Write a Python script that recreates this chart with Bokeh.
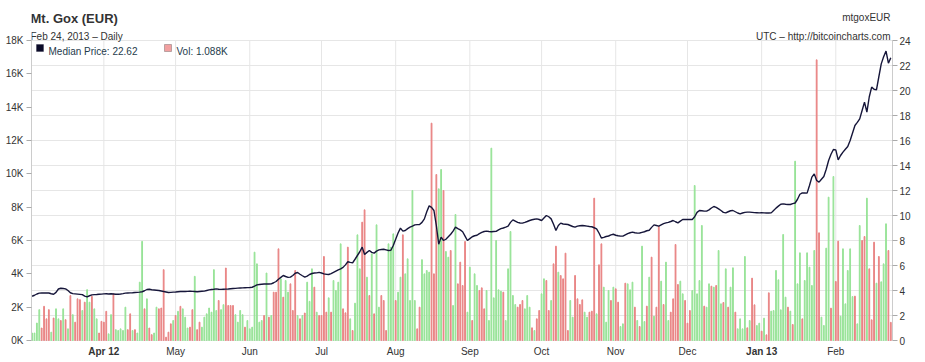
from datetime import datetime
import pandas as pd
from bokeh.plotting import figure
from bokeh.models import Range1d, LinearAxis, FixedTicker, Label, BoxAnnotation, ColumnDataSource
from bokeh.embed import file_html
from bokeh.resources import INLINE

# ---------------- data ----------------
start_day = "2012-03-02"
n_days = 360

# median price, EUR (right axis)
price = [
    3.54, 3.62, 3.72, 3.79, 3.80, 3.80, 3.81, 3.80, 3.74, 3.70,
    3.85, 4.12, 4.18, 4.16, 4.13, 4.00, 3.82, 3.75, 3.73, 3.71,
    3.69, 3.67, 3.55, 3.49, 3.58, 3.65, 3.67, 3.68, 3.70, 3.71,
    3.73, 3.74, 3.72, 3.74, 3.72, 3.70, 3.70, 3.72, 3.75, 3.79,
    3.80, 3.81, 3.82, 3.84, 3.85, 3.87, 3.90, 3.98, 4.08, 4.10,
    4.06, 4.04, 4.02, 4.00, 3.96, 3.92, 3.88, 3.84, 3.85, 3.87,
    3.88, 3.90, 3.92, 3.93, 3.92, 3.93, 3.94, 3.93, 3.92, 3.90,
    3.92, 3.94, 3.95, 4.00, 4.05, 4.08, 4.10, 4.13, 4.10, 4.09,
    4.10, 4.11, 4.12, 4.14, 4.16, 4.17, 4.19, 4.20, 4.21, 4.22,
    4.23, 4.24, 4.26, 4.35, 4.45, 4.48, 4.50, 4.52, 4.53, 4.52,
    4.53, 4.62, 4.72, 4.90, 5.05, 5.20, 5.12, 5.05, 5.07, 5.20,
    5.38, 5.44, 5.30, 5.18, 5.07, 5.15, 5.28, 5.36, 5.40, 5.41,
    5.45, 5.40, 5.33, 5.30, 5.28, 5.35, 5.45, 5.55, 5.65, 5.73,
    5.85, 6.05, 6.30, 6.25, 6.21, 6.50, 6.80, 7.10, 7.47, 6.88,
    7.05, 7.20, 7.05, 6.99, 7.15, 7.25, 7.28, 7.30, 7.25, 7.20,
    7.22, 7.60, 8.10, 8.60, 8.99, 8.75, 8.80, 8.95, 9.07, 9.15,
    9.25, 9.27, 9.28, 9.45, 9.73, 10.30, 10.77, 10.65, 10.40, 9.20,
    7.70, 8.27, 8.00, 8.10, 8.30, 8.50, 8.75, 9.07, 8.95, 8.85,
    8.70, 8.35, 8.00, 8.15, 8.30, 8.38, 8.42, 8.55, 8.65, 8.72,
    8.75, 8.72, 8.70, 8.72, 8.73, 8.85, 8.95, 9.00, 9.07, 9.15,
    9.45, 9.65, 9.55, 9.45, 9.40, 9.39, 9.45, 9.52, 9.60, 9.66,
    9.70, 9.73, 9.68, 9.60, 9.80, 10.00, 9.90, 9.73, 9.30, 8.80,
    9.20, 9.39, 9.32, 9.30, 9.28, 9.20, 9.12, 9.07, 9.15, 9.18,
    9.20, 9.18, 9.15, 9.12, 9.10, 9.02, 8.93, 8.60, 8.20, 8.25,
    8.32, 8.36, 8.45, 8.50, 8.42, 8.38, 8.35, 8.35, 8.45, 8.55,
    8.62, 8.67, 8.62, 8.59, 8.60, 8.65, 8.70, 8.78, 8.82, 9.05,
    9.25, 9.20, 9.15, 9.25, 9.35, 9.41, 9.45, 9.52, 9.60, 9.50,
    9.41, 9.55, 9.68, 9.68, 9.68, 9.68, 9.68, 9.90, 10.25, 10.40,
    10.38, 10.35, 10.35, 10.45, 10.60, 10.72, 10.65, 10.53, 10.40, 10.25,
    10.21, 10.30, 10.38, 10.40, 10.30, 10.20, 10.13, 10.20, 10.25, 10.27,
    10.27, 10.25, 10.23, 10.22, 10.21, 10.22, 10.21, 10.20, 10.20, 10.21,
    10.40, 10.59, 10.75, 10.90, 10.93, 10.90, 10.88, 10.88, 10.95, 11.00,
    11.30, 11.70, 11.81, 11.80, 11.79, 12.40, 13.07, 13.33, 12.80, 12.67,
    12.90, 13.12, 13.70, 14.40, 14.90, 15.28, 15.25, 14.45, 14.80, 15.07,
    15.30, 15.52, 16.00, 16.60, 17.20, 17.45, 17.73, 18.40, 19.07, 18.27,
    19.50, 20.27, 20.10, 20.05, 21.10, 22.13, 22.70, 23.15, 22.19, 22.62,
]

# daily volume, thousands (left axis)
volume_k = [
    0.45, 0.45, 1.05, 1.85, 0.75, 2.05, 1.30, 1.85, 0.50, 1.35,
    1.90, 1.30, 1.20, 1.90, 1.25, 0.70, 2.70, 1.55, 1.10, 2.50,
    2.45, 1.80, 2.30, 3.05, 2.30, 2.65, 1.90, 1.30, 0.45, 1.15,
    1.10, 1.75, 0.40, 1.55, 2.80, 0.65, 0.60, 0.70, 0.60, 2.00,
    0.65, 1.60, 0.60, 0.65, 0.45, 3.50, 5.95, 1.90, 2.50, 0.75,
    0.35, 0.45, 2.00, 1.90, 1.95, 4.25, 0.20, 0.50, 1.00, 1.20,
    1.50, 1.75, 2.05, 1.90, 1.40, 0.75, 0.80, 1.85, 3.85, 0.65,
    1.10, 0.80, 1.40, 1.60, 1.95, 1.70, 4.25, 1.80, 2.40, 1.85,
    2.15, 4.35, 2.10, 2.10, 2.10, 1.55, 1.10, 1.80, 1.55, 0.80,
    1.20, 0.70, 0.80, 5.30, 4.60, 1.10, 1.20, 1.50, 4.05, 1.40,
    1.50, 2.90, 2.90, 5.50, 3.70, 2.60, 3.60, 2.90, 3.40, 1.80,
    4.20, 1.50, 1.30, 1.50, 1.65, 3.50, 2.35, 4.30, 3.20, 1.70,
    1.50, 1.50, 5.04, 1.70, 2.56, 1.70, 3.60, 3.00, 3.50, 5.80,
    1.90, 1.66, 5.60, 1.30, 0.60, 2.24, 6.34, 4.30, 7.10, 7.84,
    3.80, 2.70, 5.20, 1.60, 6.94, 2.00, 2.70, 2.40, 0.60, 5.80,
    5.60, 6.40, 2.40, 2.90, 3.80, 6.34, 4.00, 4.90, 2.40, 9.00,
    2.40, 0.70, 2.00, 4.85, 4.00, 4.20, 4.10, 13.04, 4.00, 9.96,
    9.10, 10.26, 9.00, 5.34, 5.00, 5.40, 2.10, 7.56, 3.40, 4.70,
    3.30, 5.94, 1.70, 4.40, 1.20, 4.00, 3.30, 3.00, 3.16, 1.90,
    3.00, 1.20, 11.54, 2.56, 6.00, 3.04, 2.96, 2.90, 1.20, 4.30,
    6.54, 2.70, 2.16, 2.00, 2.16, 2.40, 1.90, 2.70, 2.00, 0.76,
    0.60, 1.30, 1.80, 2.80, 3.70, 3.60, 1.80, 2.40, 4.60, 5.66,
    4.10, 3.90, 3.70, 5.24, 0.60, 2.40, 1.40, 3.90, 2.50, 2.16,
    2.44, 1.70, 1.40, 1.70, 1.76, 8.54, 1.60, 4.54, 5.80, 3.20,
    1.10, 3.00, 2.40, 3.20, 3.10, 2.30, 0.84, 1.00, 3.44, 3.40,
    3.04, 3.50, 2.00, 1.20, 0.84, 5.66, 1.14, 2.06, 3.80, 5.00,
    1.46, 2.00, 6.84, 3.56, 2.16, 4.70, 1.20, 1.70, 2.50, 5.76,
    3.36, 3.56, 2.80, 2.40, 1.04, 1.80, 3.00, 9.30, 2.80, 3.60,
    6.90, 2.06, 2.00, 3.40, 3.26, 3.20, 3.30, 5.40, 2.20, 2.28,
    4.30, 2.00, 3.20, 4.36, 1.70, 0.70, 1.30, 0.70, 5.04, 0.76,
    1.20, 3.74, 2.14, 0.90, 1.04, 0.56, 1.34, 0.34, 2.86, 1.76,
    1.80, 4.20, 3.64, 1.84, 6.36, 2.60, 2.00, 1.76, 0.96, 10.76,
    3.40, 5.26, 1.30, 3.60, 5.26, 4.40, 3.30, 5.40, 16.84, 6.46,
    1.40, 0.90, 5.54, 8.60, 1.94, 9.84, 3.54, 5.96, 1.46, 5.50,
    2.20, 4.20, 5.50, 2.64, 2.66, 1.00, 6.90, 6.00, 6.24, 8.54,
    4.30, 1.24, 5.90, 3.44, 5.04, 3.52, 4.60, 7.00, 5.40, 1.088,
]

# bar colour per day: g = up day, r = down day
updown = (
    "ggggrrrrgr" "ggrgrgrgrr" "rgrggrggrr"
    "rrggrggggg" "rrgrgggrgr" "rggrrrrrrg"
    "rgrgggrrgr" "rgggggggrg" "grrrrggggr"
    "gggggggrgr" "grrrgrggrr" "rgrgrgggrg"
    "rrrrgrgggg" "rrrgrgggrr" "grgrggrrrg"
    "ggrggrgggg" "grrggggrrr" "ggrggrggrr"
    "rrggrggrrr" "gggggggrgg" "gggrrrgggr"
    "grrggrrgrr" "grrrrggrrr" "rggrrrgrrg"
    "ggrgrrggrg" "ggrgrggrgr" "grrgrggrrr"
    "rggrrrgggg" "grggrgrggr" "grggrggggr"
    "grrggrgrrg" "ggggggrgrg" "ggrgggggrr"
    "ggggrgrrgg" "ggggrggrrg" "rrrgrgggrr"
)

vol_ticks = [0, 2000, 4000, 6000, 8000, 10000, 12000, 14000, 16000, 18000]
price_ticks = [0, 2, 4, 6, 8, 10, 12, 14, 16, 18, 20, 22, 24]
month_starts = ["2012-04-01", "2012-05-01", "2012-06-01", "2012-07-01", "2012-08-01", "2012-09-01",
                "2012-10-01", "2012-11-01", "2012-12-01", "2013-01-01", "2013-02-01"]
month_labels = ["Apr 12", "May", "Jun", "Jul", "Aug", "Sep", "Oct", "Nov", "Dec", "Jan 13", "Feb"]
bold_labels = ["Apr 12", "Jan 13"]

title = "Mt. Gox (EUR)"
subtitle = "Feb 24, 2013 \u2013 Daily"
symbol = "mtgoxEUR"
source_note = "UTC \u2013 http://bitcoincharts.com"

# ---------------- styling ----------------
FONT = "Liberation Sans"
GREEN = "#98e398"
RED = "#e98585"
LINE = "#16163a"
TEXT = "#333333"
GRID = "#e6e6e6"
EDGE = "#cccccc"

VOL_MAX = vol_ticks[-1]
PRICE_MAX = price_ticks[-1]

dates = pd.date_range(start_day, periods=n_days, freq="D")
src = ColumnDataSource(dict(
    date=dates,
    vol=[v * 1000 for v in volume_k],
    color=[GREEN if c == "g" else RED for c in updown],
    price=price,
))
month_ms = [pd.Timestamp(m).value // 10**6 for m in month_starts]

# The frame fills the full height of the canvas so that header texts and month
# labels (drawn as Labels) are not clipped; the data area is 40px..340px.
H, TOP, BOT = 362, 40, 22
plot_h = H - TOP - BOT
vol_per_px = VOL_MAX / plot_h
price_per_px = PRICE_MAX / plot_h

p = figure(width=925, height=H, x_axis_type="datetime", x_axis_location=None,
           output_backend="svg", toolbar_location=None,
           x_range=Range1d(datetime(2012, 3, 1, 18), datetime(2013, 2, 24, 17)),
           y_range=Range1d(-BOT * vol_per_px, VOL_MAX + TOP * vol_per_px),
           min_border_left=31, min_border_right=33, min_border_top=0, min_border_bottom=0)
p.extra_y_ranges = {"price": Range1d(-BOT * price_per_px, PRICE_MAX + TOP * price_per_px)}
p.background_fill_color = "white"
p.border_fill_color = "white"
p.outline_line_color = None

# grids: horizontal lines follow the price axis, vertical lines at month starts
for g in p.xgrid:
    g.grid_line_color = None
p.ygrid.y_range_name = "price"
p.ygrid.ticker = FixedTicker(ticks=price_ticks)
p.ygrid.grid_line_color = GRID
p.segment(x0=month_ms, y0=0, x1=month_ms, y1=VOL_MAX, line_color=GRID, line_width=1)

p.vbar(x="date", top="vol", bottom=0, width=8 * 3600 * 1000, color="color", source=src)
p.line(x="date", y="price", y_range_name="price", line_color=LINE, line_width=1.4, source=src)

def style_axis(ax):
    ax.major_label_text_font = FONT
    ax.major_label_text_font_size = "10px"
    ax.major_label_text_color = TEXT
    ax.minor_tick_line_color = None
    ax.major_tick_in = 0
    ax.major_tick_out = 5
    ax.major_tick_line_color = "#aaaaaa"

# left (volume) axis
la = p.yaxis[0]
la.ticker = FixedTicker(ticks=vol_ticks)
la.bounds = (0, VOL_MAX)
la.major_label_overrides = {t: f"{t // 1000}K" for t in vol_ticks}
style_axis(la)
la.major_label_standoff = 3
la.axis_line_color = EDGE

# right (price) axis
ra = LinearAxis(y_range_name="price", ticker=FixedTicker(ticks=price_ticks), bounds=(0, PRICE_MAX))
style_axis(ra)
ra.major_label_standoff = 2
ra.axis_line_color = EDGE
p.add_layout(ra, "right")

# month labels under the data area
for ms, lab in zip(month_ms, month_labels):
    p.add_layout(Label(x=ms, y=BOT - 11, y_units="screen", text=lab, text_align="center",
                       text_baseline="alphabetic", text_font=FONT, text_font_size="10px",
                       text_font_style="bold" if lab in bold_labels else "normal", text_color=TEXT))

# header texts (screen units, measured from the frame's bottom-left)
def add_text(x, y_from_top, text, size="10px", style="normal", align="left", color=TEXT):
    p.add_layout(Label(x=x, y=H - y_from_top, x_units="screen", y_units="screen", text=text,
                       text_align=align, text_baseline="alphabetic", text_font=FONT,
                       text_font_size=size, text_font_style=style, text_color=color))

add_text(-1, 18, title, size="13px", style="bold")
add_text(-1, 36, subtitle)
add_text(859, 17, symbol, align="right")
add_text(859, 36, source_note, align="right")

# legend
LEG = "#1e3b4c"
def legend_box(left, fill, line):
    p.add_layout(BoxAnnotation(left=left, right=left + 7, bottom=H - 51, top=H - 44,
                               left_units="screen", right_units="screen",
                               bottom_units="screen", top_units="screen",
                               fill_color=fill, fill_alpha=1, line_color=line, line_width=1))

legend_box(5, "#0a0a28", "#0a0a28")
add_text(17, 51, f"Median Price: {price[-1]:.2f}", color=LEG)
legend_box(133, "#f2a0a0", "#333333")
add_text(145, 51, f"Vol: {volume_k[-1]:.3f}K", color=LEG)

open("out.html", "w").write(file_html(p, INLINE))
